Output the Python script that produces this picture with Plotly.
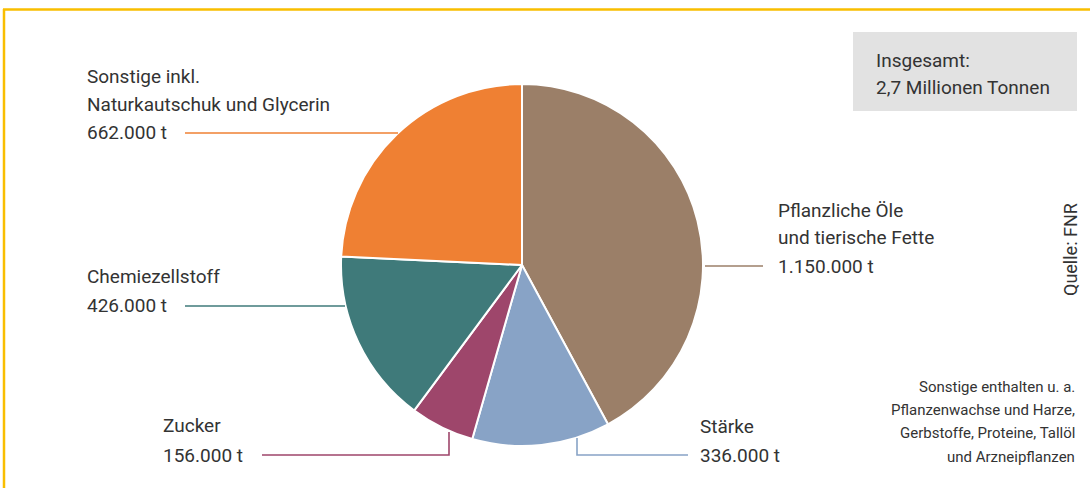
import plotly.graph_objects as go

# ---- data ----
categories = ["Pflanzliche Öle und tierische Fette", "Stärke", "Zucker",
              "Chemiezellstoff", "Sonstige inkl. Naturkautschuk und Glycerin"]
values = [1150000, 336000, 156000, 426000, 662000]
colors = ["#9B7F68", "#88A3C6", "#9E466B", "#3F7A7A", "#EF8033"]
label_lines = [
    ["Pflanzliche Öle", "und tierische Fette", "1.150.000 t"],
    ["Stärke", "336.000 t"],
    ["Zucker", "156.000 t"],
    ["Chemiezellstoff", "426.000 t"],
    ["Sonstige inkl.", "Naturkautschuk und Glycerin", "662.000 t"],
]
total_lines = ["Insgesamt:", "2,7 Millionen Tonnen"]
note_lines = ["Sonstige enthalten u. a.", "Pflanzenwachse und Harze,",
              "Gerbstoffe, Proteine, Tallöl", "und Arzneipflanzen"]
source_text = "Quelle: FNR"

W, H = 1090, 488
FONT = "Roboto, Liberation Sans Narrow, DejaVu Sans Condensed, sans-serif"
TXT = "#333333"

def px(x):
    return x / W

def py(y):
    return 1 - y / H

cx, cy, r = 522, 265, 181

fig = go.Figure(go.Pie(
    labels=categories, values=values, sort=False, direction="clockwise",
    rotation=0, marker=dict(colors=colors, line=dict(color="white", width=2)),
    textinfo="none", hoverinfo="none", showlegend=False,
    domain=dict(x=[px(cx - r), px(cx + r)], y=[py(cy + r), py(cy - r)]),
))

annotations = []
shapes = []

def add_text(x, y, text, size=19, anchor="left", angle=0):
    off = -2 if anchor == "left" else 2
    annotations.append(dict(x=px(x + off), y=py(y), xref="paper", yref="paper", text=text,
                            showarrow=False, xanchor=anchor, yanchor="middle",
                            textangle=angle,
                            font=dict(family=FONT, size=size, color=TXT)))

def add_line(pts, color):
    path = "M " + " L ".join(f"{px(x)},{py(y)}" for x, y in pts)
    shapes.append(dict(type="path", path=path, xref="paper", yref="paper",
                       line=dict(color=color, width=1.6)))

# label positions (layout), lines per category
label_pos = [(778, [210, 238, 266]), (700, [426, 455]), (163, [425, 455]),
             (87, [276, 305]), (87, [76, 104, 133])]
leaders = [
    [(705, 266), (763, 266)],
    [(577, 438), (577, 455), (688, 455)],
    [(449, 432), (449, 455), (262, 455)],
    [(345, 306), (185, 306)],
    [(398, 133), (185, 133)],
]
for i, lines in enumerate(label_lines):
    x0, ys = label_pos[i]
    for t, y in zip(lines, ys):
        add_text(x0, y, t)
    add_line(leaders[i], colors[i])

# total box
shapes.append(dict(type="rect", xref="paper", yref="paper", x0=px(853), x1=px(1077),
                   y0=py(111), y1=py(32), fillcolor="#E2E2E2", line=dict(width=0),
                   layer="below"))
for t, y in zip(total_lines, [60, 88]):
    add_text(876, y, t)

# footnote
for t, y in zip(note_lines, [387, 410, 433, 457]):
    add_text(1075, y, t, size=15, anchor="right")

# source
annotations.append(dict(x=px(1071), y=py(250), xref="paper", yref="paper",
                        text=source_text, showarrow=False, textangle=-90,
                        xanchor="center", yanchor="middle",
                        font=dict(family=FONT, size=18, color=TXT)))

# yellow frame
shapes.append(dict(type="line", xref="paper", yref="paper", x0=px(3), x1=1.0,
                   y0=py(9.5), y1=py(9.5), line=dict(color="#F9BE00", width=2.5)))
shapes.append(dict(type="line", xref="paper", yref="paper", x0=px(4), x1=px(4),
                   y0=py(9), y1=0, line=dict(color="#F9BE00", width=2.5)))

fig.update_layout(width=W, height=H, margin=dict(l=0, r=0, t=0, b=0),
                  paper_bgcolor="white", plot_bgcolor="white",
                  annotations=annotations, shapes=shapes)

fig.write_html("out.html")
